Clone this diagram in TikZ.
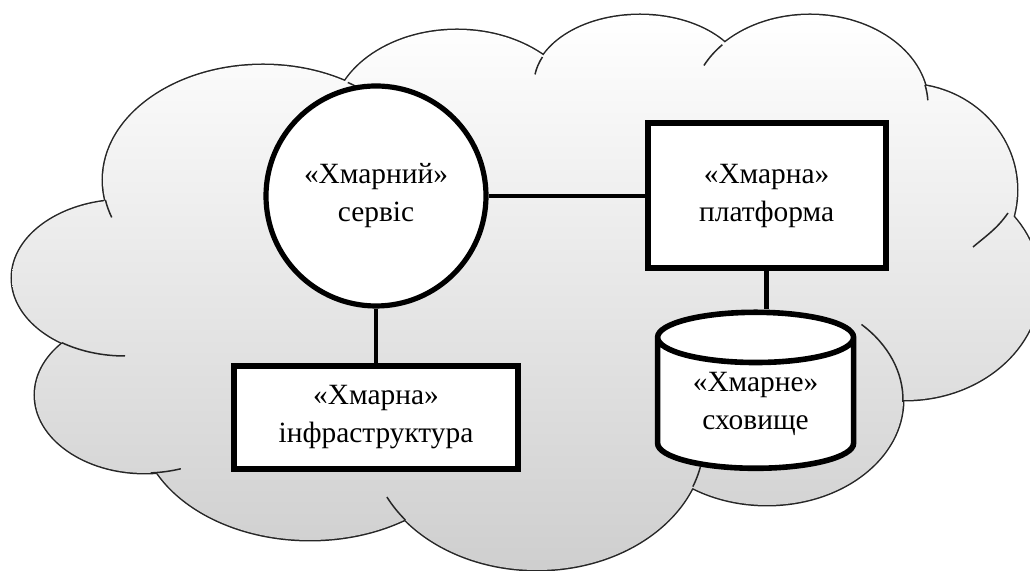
\documentclass[tikz,border=0pt]{standalone}
\usepackage{fontspec}
\setmainfont{Liberation Serif}
\usetikzlibrary{positioning,shapes.geometric}

\def\bumps{263/391/160/115, 457/449/125/92, 640/487/106/69, 810/466/118/90,
  905/381/112/106, 905/286/135/115, 767/171/136/105, 537/131/167/130,
  310/151/170/120, 145/176/110/78, 125/293/113/78}

\begin{document}
\begin{tikzpicture}[x=0.5pt,y=0.5pt,
    rim/.style={draw=black!85, line width=1.5pt},
    fillcloud/.style={top color=white, bottom color=black!19},
    hook/.style={draw=black!85, line width=0.75pt},
    txt/.style={font=\fontsize{14.7}{19}\selectfont, align=center, fill=white, draw, inner sep=0pt},
    serv/.style={txt, circle, line width=2.6pt, minimum size=110pt},
    box/.style={txt, rectangle, line width=3pt},
    store/.style={txt, cylinder, shape border rotate=90, aspect=0.4, line width=2.8pt,
      minimum width=98pt, minimum height=78pt},
    link/.style={line width=2.2pt}]
  \useasboundingbox (0,0) rectangle (1030,571);

  \foreach \cx/\cy/\rx/\ry in \bumps
    \draw[rim] (\cx,\cy) ellipse[x radius=\rx, y radius=\ry];
  \shade[fillcloud] foreach \cx/\cy/\rx/\ry in \bumps {(\cx,\cy) ellipse[x radius=\rx, y radius=\ry]}
    (104,370) -- (62,228) -- (151,99) -- (405,51) -- (694,83) -- (902,169)
    -- (1008,358) -- (924,487) -- (721,528) -- (546,513) -- (347,489) -- cycle;

  \foreach \cx/\cy/\rx/\ry/\a/\b in {263/391/160/115/190/199, 263/391/160/115/58/53,
      640/487/106/69/157/172, 810/466/118/90/138/154, 810/466/118/90/13/3,
      767/171/136/105/-1/46, 537/131/167/130/-21/-12, 537/131/167/130/218/206,
      145/176/110/78/-87/-71, 125/293/113/78/-124/-90}
    \draw[hook] (\cx,\cy) ++({\a}:{\rx} and {\ry}) arc[start angle=\a, end angle=\b, x radius=\rx, y radius=\ry];
  \draw[hook] (1008,358) to[out=-125,in=40] (973,324);

  \node[serv] (serv) at (376,375) {«Хмарний»\\сервіс};
  \node[box, right=78pt of serv, minimum width=119pt, minimum height=72.5pt] (plat) {«Хмарна»\\платформа};
  \node[box, below=27pt of serv, minimum width=142pt, minimum height=51.5pt] (infra) {«Хмарна»\\інфраструктура};
  \node[store, below=19pt of plat, xshift=-5.5pt] (hran) {«Хмарне»\\сховище};

  \draw[link] (serv) -- (plat);
  \draw[link] (serv) -- (infra);
  \draw[link] (plat.south) -- (plat.south |- hran.north);
\end{tikzpicture}
\end{document}
